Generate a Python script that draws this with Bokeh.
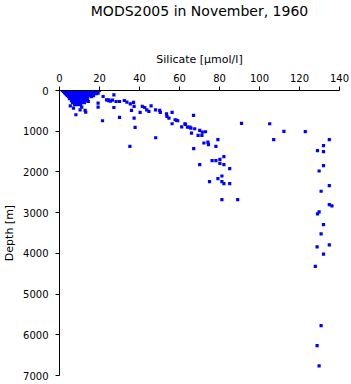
from bokeh.plotting import figure
from bokeh.models import Range1d, FixedTicker, ColumnDataSource, Title
from bokeh.embed import file_html
from bokeh.resources import INLINE

# Silicate [umol/l] and depth [m]
silicate = [
    # dense shallow cluster
    1.5, 3, 4.5, 6, 7.5, 9, 10.5, 12, 13.5, 15, 16.5, 18, 20,
    2, 3.5, 5, 6.5, 8, 9.5, 11, 12.5, 14, 16, 19,
    2.5, 4, 5.5, 7, 8.5, 10, 11.5, 13, 15, 17,
    3, 4.5, 6, 7.5, 9, 10.5, 12, 14, 16, 18.5,
    3.5, 5, 6.5, 8, 9.5, 11, 12.5, 14, 15.5,
    4, 5.5, 7, 8.5, 10, 11.5, 13, 14.5, 17,
    4.5, 6, 7.5, 9, 10.5, 12, 14, 16,
    5, 6.5, 8, 9.5, 11, 12.5, 14,
    6, 7.5, 9, 10.5, 12, 13.5,
    6.5, 8, 9.5, 11, 12.5,
    7.5, 9, 10.5,
    # shallow scattered
    19.3, 21.8, 24.6, 19.3, 19.3, 5.4, 7.0, 10.3, 12.8, 8.2, 11.1, 14.4, 21.5, 13.1,
    27.2, 23.5, 24.5, 25.5, 26.5, 28.3, 30.0, 32.4, 33.7, 35.4, 37.0, 37.3, 36.0,
    27.2, 41.4, 42.6, 40.3, 43.6, 44.7, 45.8, 48.0, 30.0, 37.3, 37.8, 35.2, 48.1,
    # intermediate
    50.1, 50.4, 53.5, 53.7, 54.7, 56.3, 57.8, 59.1, 61.1, 63.0, 64.0, 67.0,
    65.7, 67.6, 70.1, 71.4, 73.0, 66.0, 69.3, 71.2, 56.3, 58.6, 62.7, 65.2,
    79.2, 72.2, 74.2, 74.5, 78.2, 67.1,
    82.2, 76.3, 78.2, 80.2, 80.2, 82.2, 70.1, 85.1, 81.2, 79.2, 75.0, 81.2,
    82.2, 85.1, 81.2, 89.1,
    # deep
    91.0, 105.1, 112.2, 122.9, 107.1, 134.9, 132.0, 129.0, 132.0, 132.0, 129.8,
    134.9, 130.8, 134.9, 136.2, 129.8, 129.0, 132.0, 130.8, 134.9, 128.8, 132.0,
    127.9, 130.8, 128.8, 129.8,
]
depth = [
    0, 0, 0, 0, 0, 0, 0, 0, 0, 0, 0, 0, 0,
    25, 25, 25, 25, 25, 25, 25, 25, 25, 25, 25,
    50, 50, 50, 50, 50, 50, 50, 50, 50, 50,
    75, 75, 75, 75, 75, 75, 75, 75, 75, 75,
    100, 100, 100, 100, 100, 100, 100, 100, 100,
    125, 125, 125, 125, 125, 125, 125, 125, 125,
    150, 150, 150, 150, 150, 150, 150, 150,
    200, 200, 200, 200, 200, 200, 200,
    250, 250, 250, 250, 250, 250,
    300, 300, 300, 300, 300,
    350, 350, 350,
    65, 147, 229, 310, 409, 376, 433, 474, 490, 596, 409, 270, 743, 530,
    106, 230, 250, 260, 235, 270, 270, 245, 286, 327, 294, 392, 490,
    417, 392, 417, 539, 474, 515, 376, 474, 662, 678, 907, 1373, 1160,
    490, 539, 572, 637, 678, 539, 719, 743, 891, 833, 899, 613,
    923, 940, 980, 1022, 1013, 1046, 1103, 1103, 817, 735, 817, 899,
    1209, 1290, 1266, 1331, 1373, 1430,
    1626, 1724, 1724, 1691, 1789, 1822, 1822, 1920, 2100, 2165, 2238, 2238,
    2287, 2287, 2680, 2680,
    809, 817, 1005, 1012, 1209, 1209, 1356, 1479, 1503, 1846, 1977,
    2336, 2475, 2802, 2836, 2983, 3031, 3292, 3521, 3791, 3840, 4020,
    4322, 5777, 6267, 6765,
]

x_ticks = [0, 20, 40, 60, 80, 100, 120, 140]
y_ticks = [0, 1000, 2000, 3000, 4000, 5000, 6000, 7000]
title_text = "MODS2005 in November, 1960"

FONT = "DejaVu Sans"

p = figure(width=351, height=384, output_backend="svg", toolbar_location=None,
           x_axis_location="above", x_range=Range1d(0, 140), y_range=Range1d(7000, 0),
           min_border_left=54, min_border_right=12, min_border_top=90,
           min_border_bottom=9, title=title_text)

p.title.align = "center"
p.title.vertical_align = "top"
p.title.text_font = FONT
p.title.text_font_size = "14px"
p.title.text_font_style = "normal"
p.title.text_color = "black"
p.title.standoff = 0

# invisible spacer between the x axis block and the title
p.add_layout(Title(text=" ", text_font_size="1px", standoff=26), "above")

p.outline_line_color = None
p.xgrid.visible = False
p.ygrid.visible = False

for ax in (p.xaxis[0], p.yaxis[0]):
    ax.major_tick_out = 4
    ax.major_tick_in = 0
    ax.minor_tick_out = 0
    ax.minor_tick_in = 0
    ax.axis_line_color = "black"
    ax.major_tick_line_color = "black"
    ax.major_label_text_font = FONT
    ax.major_label_text_font_size = "10px"
    ax.major_label_text_color = "black"
    ax.axis_label_text_font = FONT
    ax.axis_label_text_font_size = "11px"
    ax.axis_label_text_font_style = "normal"
    ax.axis_label_text_color = "black"
    ax.major_label_standoff = 5
    ax.axis_label_standoff = 5

p.yaxis[0].major_label_standoff = 7
p.yaxis[0].axis_label_standoff = 4

p.xaxis[0].ticker = FixedTicker(ticks=x_ticks)
p.yaxis[0].ticker = FixedTicker(ticks=y_ticks)
p.xaxis[0].axis_label = "Silicate [µmol/l]"
p.yaxis[0].axis_label = "Depth [m]"

src = ColumnDataSource(data=dict(x=silicate, y=depth))
p.scatter("x", "y", source=src, marker="square", size=3.2,
          fill_color="#0000ff", line_color=None)

open("out.html", "w").write(file_html(p, INLINE))
